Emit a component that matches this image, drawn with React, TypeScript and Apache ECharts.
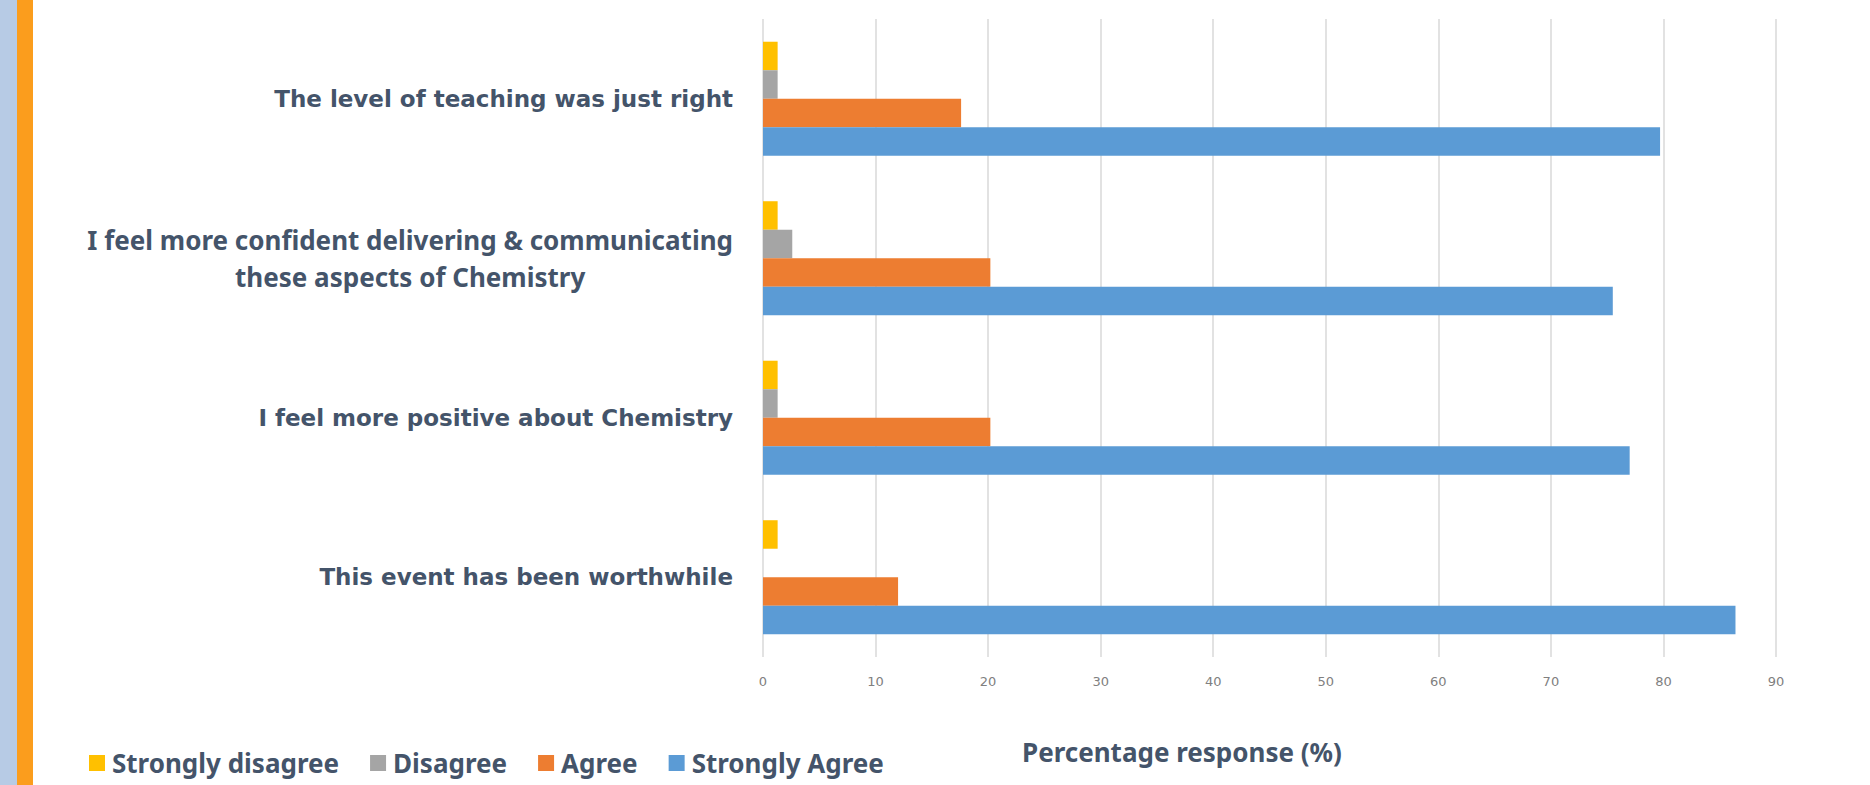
import React, { useEffect, useRef } from "react";
import * as echarts from "echarts";

const categories = [
  "The level of teaching was just right",
  "I feel more confident delivering & communicating\nthese aspects of Chemistry",
  "I feel more positive about Chemistry",
  "This event has been worthwhile",
];
const seriesNames = ["Strongly disagree", "Disagree", "Agree", "Strongly Agree"];
const stronglyDisagree = [1.3, 1.3, 1.3, 1.3];
const disagree = [1.3, 2.6, 1.3, 0];
const agree = [17.6, 20.2, 20.2, 12.0];
const stronglyAgree = [79.7, 75.5, 77.0, 86.4];
const seriesColors = ["#FFC000", "#A5A5A5", "#ED7D31", "#5B9BD5"];
const axisTitle = "Percentage response (%)";

const TEXT = "#44546A";

export default function App() {
  const ref = useRef<HTMLDivElement>(null);
  useEffect(() => {
    const chart = echarts.init(ref.current as HTMLDivElement, null, { renderer: "svg" });
    const values = [stronglyDisagree, disagree, agree, stronglyAgree];
    chart.setOption({
      animation: false,
      backgroundColor: "#ffffff",
      grid: { left: 763, right: 94, top: 19, bottom: 128, containLabel: false },
      xAxis: {
        type: "value",
        min: 0,
        max: 90,
        interval: 10,
        axisLine: { show: false },
        axisTick: { show: false },
        splitLine: { show: true, lineStyle: { color: "#D9D9D9", width: 1.5 } },
        axisLabel: { color: "#808080", fontSize: 13, fontFamily: "DejaVu Sans", margin: 18 },
      },
      yAxis: {
        type: "category",
        data: categories,
        inverse: true,
        axisLine: { show: false },
        axisTick: { show: false },
        splitLine: { show: false },
        axisLabel: {
          margin: 30,
          fontFamily: "DejaVu Sans",
          fontWeight: "bold",
          formatter: (v: string) =>
            v.includes("\n")
              ? v.split("\n").map((l) => `{n|${l}}`).join("\n")
              : `{w|${v}}`,
          rich: {
            w: { fontFamily: "DejaVu Sans", fontWeight: "bold", fontSize: 23, color: TEXT },
            n: { fontFamily: "Noto Sans", fontWeight: "bold", fontSize: 26, lineHeight: 37, color: TEXT, align: "center" },
          },
        },
      },
      legend: {
        data: seriesNames,
        left: 84,
        top: 745,
        itemWidth: 16,
        itemHeight: 16,
        itemGap: 31,
        icon: "rect",
        textStyle: { color: TEXT, fontFamily: "Noto Sans", fontWeight: "bold", fontSize: 26, padding: [0, 0, 0, 2] },
      },
      graphic: [
        { type: "rect", left: 0, top: 0, shape: { x: 0, y: 0, width: 17, height: 785 }, style: { fill: "#B7CBE5" } },
        { type: "rect", left: 17, top: 0, shape: { x: 0, y: 0, width: 16, height: 785 }, style: { fill: "#FB9D1D" } },
        {
          type: "text",
          left: 1022,
          top: 739,
          style: { text: axisTitle, fill: TEXT, font: "bold 26px 'Noto Sans'" },
        },
      ],
      series: seriesNames.map((name, i) => ({
        name,
        type: "bar",
        data: values[i],
        barGap: "0%",
        barCategoryGap: "28.5%",
        itemStyle: { color: seriesColors[i] },
      })),
    });
    return () => chart.dispose();
  }, []);
  return (
    <div
      ref={ref}
      style={{ position: "absolute", left: 0, top: 0, width: 1870, height: 785, background: "#fff" }}
    />
  );
}
